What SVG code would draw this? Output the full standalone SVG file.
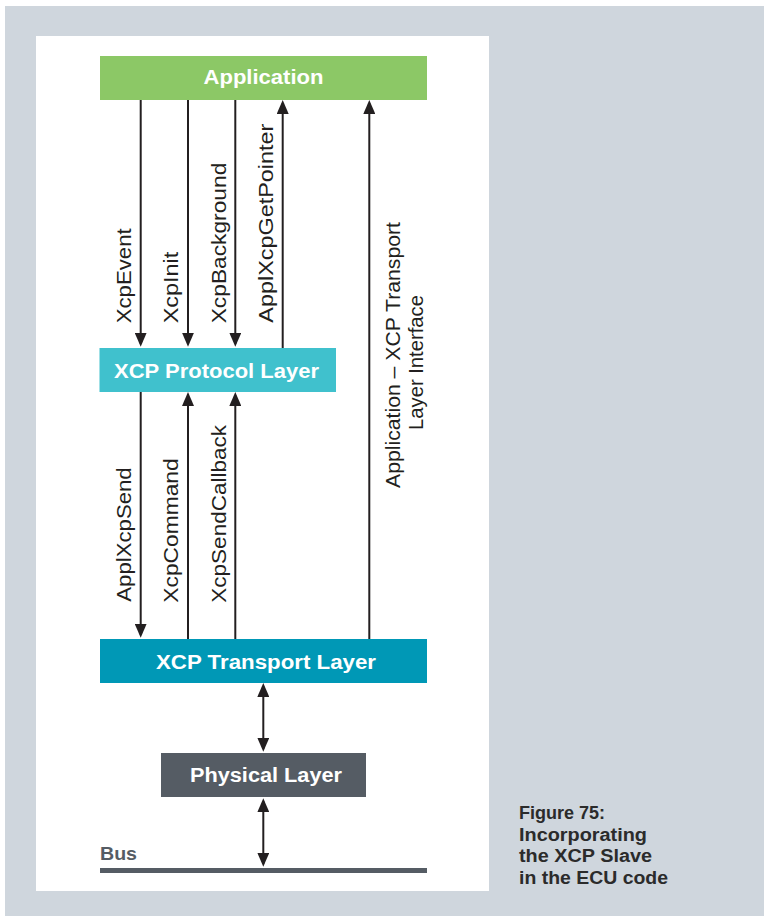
<svg xmlns="http://www.w3.org/2000/svg" width="764" height="916" viewBox="0 0 764 916">
<style>
.box-title{font-family:"Liberation Sans",Arial,sans-serif;font-weight:bold;font-size:20px;fill:#ffffff;text-anchor:middle}
.lbl{font-family:"Liberation Sans",Arial,sans-serif;font-size:21px;fill:#231f20}
.cap{font-family:"Liberation Sans",Arial,sans-serif;font-weight:bold;font-size:18px;fill:#2b2b2b}
.conn{stroke:#231f20;stroke-width:2;fill:none}
</style>
<defs>
<marker id="ah" viewBox="0 0 14 12" refX="11" refY="6" markerWidth="14" markerHeight="12" markerUnits="userSpaceOnUse" orient="auto-start-reverse">
<path d="M0,0 L14,6 L0,12 z" fill="#231f20"/>
</marker>
</defs>
<rect x="0" y="0" width="764" height="916" fill="#ffffff"/>
<rect x="5" y="6" width="759" height="910" fill="#cfd6dd"/>
<rect x="36" y="36" width="453" height="855" fill="#ffffff"/>

<g id="application">
<rect x="100" y="56" width="327" height="44" fill="#8cc866"/>
<text class="box-title" x="263.5" y="84" textLength="120" lengthAdjust="spacingAndGlyphs">Application</text>
</g>
<g id="protocol-layer">
<rect x="99.5" y="348" width="236.5" height="44" fill="#40c1cd"/>
<text class="box-title" x="216.5" y="377.5" textLength="205" lengthAdjust="spacingAndGlyphs">XCP Protocol Layer</text>
</g>
<g id="transport-layer">
<rect x="100" y="639" width="327" height="44" fill="#0098b6"/>
<text class="box-title" x="266" y="668.5" textLength="220" lengthAdjust="spacingAndGlyphs">XCP Transport Layer</text>
</g>
<g id="physical-layer">
<rect x="161" y="753" width="205" height="44" fill="#555c64"/>
<text class="box-title" x="266" y="782" textLength="152" lengthAdjust="spacingAndGlyphs">Physical Layer</text>
</g>
<g id="bus">
<rect x="100" y="868" width="327" height="5" fill="#555c64"/>
<text x="100" y="860" font-family="Liberation Sans, Arial, sans-serif" font-weight="bold" font-size="19" fill="#555c64" textLength="37" lengthAdjust="spacingAndGlyphs">Bus</text>
</g>

<g id="connectors">
<line class="conn" x1="140.7" y1="100" x2="140.7" y2="343.7" marker-end="url(#ah)"/>
<line class="conn" x1="188" y1="100" x2="188" y2="343.7" marker-end="url(#ah)"/>
<line class="conn" x1="235.3" y1="100" x2="235.3" y2="343.7" marker-end="url(#ah)"/>
<line class="conn" x1="282.7" y1="348" x2="282.7" y2="103" marker-end="url(#ah)"/>
<line class="conn" x1="369.3" y1="639" x2="369.3" y2="103" marker-end="url(#ah)"/>
<line class="conn" x1="140.7" y1="392" x2="140.7" y2="634.7" marker-end="url(#ah)"/>
<line class="conn" x1="188" y1="639" x2="188" y2="395" marker-end="url(#ah)"/>
<line class="conn" x1="235.3" y1="639" x2="235.3" y2="395" marker-end="url(#ah)"/>
<line class="conn" x1="263.3" y1="686" x2="263.3" y2="748.7" marker-start="url(#ah)" marker-end="url(#ah)"/>
<line class="conn" x1="263.3" y1="801.3" x2="263.3" y2="863.7" marker-start="url(#ah)" marker-end="url(#ah)"/>
</g>

<g id="labels">
<text class="lbl" transform="translate(130.5,323.3) rotate(-90)" textLength="95" lengthAdjust="spacingAndGlyphs">XcpEvent</text>
<text class="lbl" transform="translate(178,323.3) rotate(-90)" textLength="71.6" lengthAdjust="spacingAndGlyphs">XcpInit</text>
<text class="lbl" transform="translate(225.5,323.3) rotate(-90)" textLength="160.6" lengthAdjust="spacingAndGlyphs">XcpBackground</text>
<text class="lbl" transform="translate(273,322.7) rotate(-90)" textLength="199" lengthAdjust="spacingAndGlyphs">ApplXcpGetPointer</text>
<text class="lbl" transform="translate(399.5,488) rotate(-90)" textLength="266" lengthAdjust="spacingAndGlyphs">Application – XCP Transport</text>
<text class="lbl" transform="translate(422.5,430) rotate(-90)" textLength="135" lengthAdjust="spacingAndGlyphs">Layer Interface</text>
<text class="lbl" transform="translate(130.5,601.7) rotate(-90)" textLength="134.4" lengthAdjust="spacingAndGlyphs">ApplXcpSend</text>
<text class="lbl" transform="translate(178,602.7) rotate(-90)" textLength="144.4" lengthAdjust="spacingAndGlyphs">XcpCommand</text>
<text class="lbl" transform="translate(225.5,602.7) rotate(-90)" textLength="177.7" lengthAdjust="spacingAndGlyphs">XcpSendCallback</text>
</g>

<g id="caption">
<text class="cap" x="519" y="818.5">Figure 75:</text>
<text class="cap" x="519" y="840.5" textLength="128" lengthAdjust="spacingAndGlyphs">Incorporating</text>
<text class="cap" x="519" y="862" textLength="133" lengthAdjust="spacingAndGlyphs">the XCP Slave</text>
<text class="cap" x="519" y="884" textLength="149" lengthAdjust="spacingAndGlyphs">in the ECU code</text>
</g>
</svg>
